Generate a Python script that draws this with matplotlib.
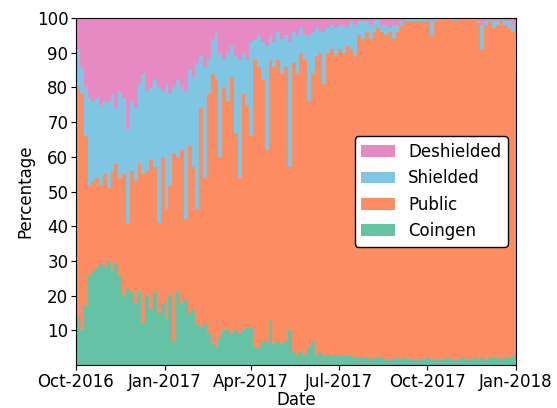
import numpy as np
import pandas as pd
import matplotlib
matplotlib.use("Agg")
import matplotlib.pyplot as plt
import matplotlib.dates as mdates

# 4-day samples starting 2016-10-01
start_date = "2016-10-01"
step_days = 4

coingen = [14, 10, 17, 26, 27, 28, 29, 28, 30, 27, 29, 26, 20, 22, 21, 18, 21, 12, 20, 16,
           21, 15, 18, 13, 20, 7, 21, 18, 19, 15, 16, 12, 11, 12, 9, 6, 5, 8, 10, 10,
           9, 10, 9, 10, 11, 11, 5, 5, 7, 7, 13, 6, 7, 6, 7, 10, 4, 3, 4, 3,
           5, 7, 3, 4, 3, 3, 3, 2.5, 3, 2.5, 3, 2.5, 2, 2, 2, 2, 1.5, 2, 2, 2,
           1.5, 1.5, 1.5, 2, 1.5, 2, 1.5, 1.5, 1.5, 1.5, 1.5, 2, 1.5, 1.5, 1.5, 1.5,
           2, 1.5, 1.5, 1.5, 2, 1.5, 1.5, 2, 1.5, 2, 1.5, 2, 2, 2, 1.5, 2, 2, 3, 4]
public = [66, 68, 49, 26, 26, 26, 23, 27, 21, 29, 29, 28, 35, 19, 35, 35, 37, 43, 36, 43,
          36, 26, 42, 32, 32, 54, 39, 44, 23, 48, 41, 33, 63, 42, 69, 78, 77, 52, 70, 66,
          74, 57, 45, 68, 64, 55, 83, 81, 75, 55, 75, 80, 81, 78, 79, 47, 83, 81, 86, 85,
          71, 77, 86, 86, 78, 87, 88, 86.5, 88, 87.5, 89, 88.5, 87, 93, 92, 94, 92.5, 94, 95, 94,
          93.5, 94.5, 92.5, 94, 96.5, 97, 97.5, 97.5, 97.5, 97.5, 97.5, 97, 93.5, 97.5, 98, 98,
          97.5, 98, 97.5, 98, 97.5, 98, 98, 97.5, 97, 89, 96.5, 97, 95, 96, 97.5, 96, 95, 93, 80]
shielded = [11, 8, 14, 25, 23, 23, 23, 21, 25, 22, 16, 25, 22, 27, 20, 21, 23, 29, 23, 21,
            25, 39, 19, 36, 26, 19, 22, 18, 37, 22, 26, 42, 15, 32, 10, 10, 14, 30, 8, 14,
            9, 22, 34, 12, 13, 27, 6, 9, 11, 30, 7, 7, 8, 10, 9, 36, 9, 11, 7, 7,
            19, 12, 8, 6, 15, 7, 7, 8, 7, 8, 5, 8, 9, 4, 5, 3, 4, 3, 2.5, 2,
            3, 1, 4, 2, 1, 0.5, 1, 0.5, 1, 0.5, 1, 0.5, 4, 1, 0.5, 0.5,
            0.5, 0.5, 0.5, 0.5, 0.5, 0, 0.5, 0.5, 0.5, 7, 1, 0.5, 2, 1, 0.5, 1, 2, 2, 11]
deshielded = [9, 14, 20, 23, 24, 23, 25, 24, 24, 22, 26, 21, 23, 32, 24, 26, 19, 16, 21, 20,
              18, 20, 21, 19, 22, 20, 18, 20, 21, 15, 17, 13, 11, 14, 12, 6, 4, 10, 12, 10,
              8, 11, 12, 10, 12, 7, 6, 5, 7, 8, 5, 7, 4, 6, 5, 7, 4, 5, 3, 5,
              5, 4, 3, 4, 4, 3, 2, 3, 2, 2, 3, 1, 2, 1, 1, 1, 2, 1, 0.5, 2,
              2, 3, 2, 2, 1, 0.5, 0, 0.5, 0, 0.5, 0, 0.5, 1, 0, 0, 0,
              0, 0, 0.5, 0, 0, 0.5, 0, 0, 1, 2, 1, 0.5, 1, 1, 0.5, 1, 1, 2, 5]

series_labels = ["Coingen", "Public", "Shielded", "Deshielded"]
series_colors = ["#66c2a5", "#fc8d62", "#7fc6e5", "#e78ac3"]

dates = pd.date_range(start_date, periods=len(coingen), freq=f"{step_days}D")
end_date = pd.Timestamp("2018-01-01")

# extend the last step to the end date for step drawing
x_plot = list(dates) + [end_date]
vals = [np.array(s + [s[-1]], dtype=float) for s in (coingen, public, shielded, deshielded)]

fig = plt.figure(figsize=(5.57, 4.08), dpi=100)
ax = fig.add_axes([0.1364, 0.105, 0.79, 0.851])
ax.stackplot(x_plot, *vals, labels=series_labels, colors=series_colors, step="post",
             linewidth=0)

ax.set_xlim(dates[0], end_date)
ax.set_ylim(0, 100)
ax.set_yticks(range(10, 101, 10))
ticks = pd.to_datetime(["2016-10-01", "2017-01-01", "2017-04-01", "2017-07-01",
                        "2017-10-01", "2018-01-01"])
ax.set_xticks(ticks)
ax.xaxis.set_major_formatter(mdates.DateFormatter("%b-%Y"))
ax.tick_params(labelsize=12, pad=2)
ax.set_xlabel("Date", fontsize=12, labelpad=0)
ax.set_ylabel("Percentage", fontsize=12, labelpad=2)

handles, labels = ax.get_legend_handles_labels()
leg = ax.legend(handles[::-1], labels[::-1], loc="center right", fontsize=12,
                framealpha=1, edgecolor="black", fancybox=True)

fig.savefig("out.png", dpi=100)
